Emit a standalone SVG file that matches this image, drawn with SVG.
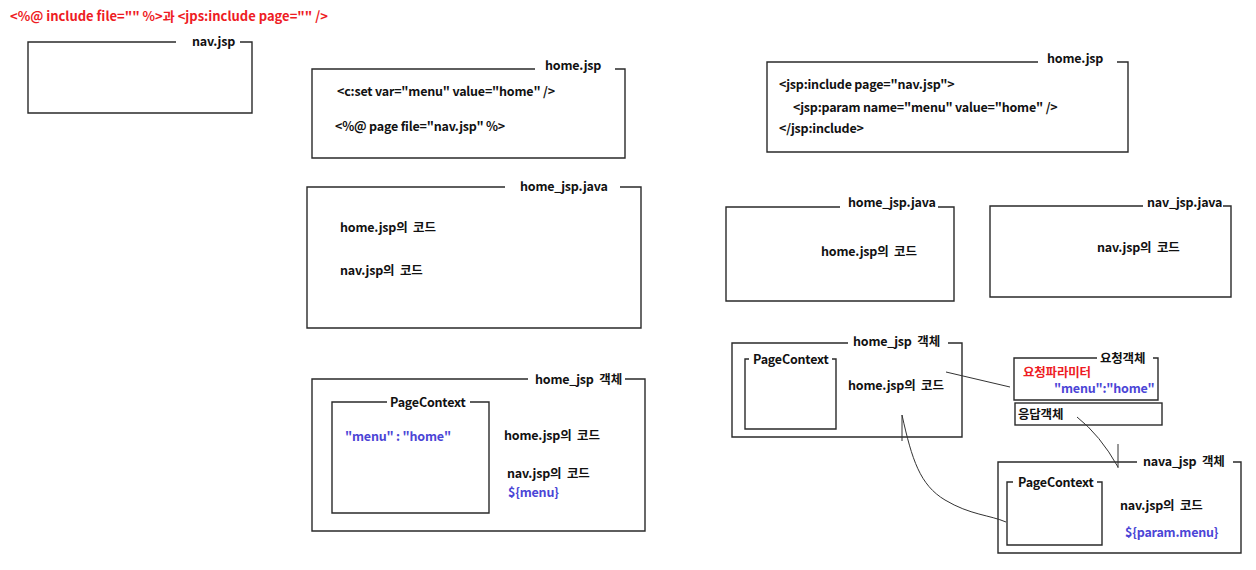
<svg xmlns="http://www.w3.org/2000/svg" width="1256" height="570" viewBox="0 0 1256 570">
<style>
text{font-family:"Noto Sans CJK KR","Noto Sans",sans-serif;font-weight:700;font-size:12.5px;letter-spacing:-0.2px;fill:#111}
.ttl{font-size:13px;letter-spacing:0}
.k{word-spacing:3px}
.red{fill:#ee1c24}
.blue{fill:#4b45d6}
.box{fill:none;stroke:#2a2a2a;stroke-width:1.4}
.con{fill:none;stroke:#333;stroke-width:1}
</style>
<rect width="1256" height="570" fill="#fff"/>
<text id="title" class="red ttl" x="10" y="21">&lt;%@ include file="" %&gt;과 &lt;jps:include page="" /&gt;</text>

<g id="nav-jsp">
<path class="box" d="M176 42H28V113H252V42H240"/>
<text x="192" y="46">nav.jsp</text>
</g>

<g id="home-jsp-left">
<path class="box" d="M535 69H312V158H625V69H615"/>
<text x="545" y="70">home.jsp</text>
<text x="337" y="96">&lt;c:set var="menu" value="home" /&gt;</text>
<text x="335" y="131">&lt;%@ page file="nav.jsp" %&gt;</text>
</g>

<g id="home-jsp-java-left">
<path class="box" d="M505 187H307V328H641V187H620"/>
<text x="520" y="191">home_jsp.java</text>
<text class="k" x="340" y="232">home.jsp의 코드</text>
<text class="k" x="340" y="275">nav.jsp의 코드</text>
</g>

<g id="home-jsp-object-left">
<path class="box" d="M528 379H312V531H645V379H625"/>
<text class="k" x="535" y="384">home_jsp 객체</text>
<g id="pagecontext-left">
<path class="box" d="M387 402H332V513H489V402H470"/>
<text x="390" y="407">PageContext</text>
<text class="blue" x="345" y="441">"menu" : "home"</text>
</g>
<text class="k" x="504" y="440">home.jsp의 코드</text>
<text class="k" x="507" y="478">nav.jsp의 코드</text>
<text class="blue" x="508" y="497">${menu}</text>
</g>

<g id="home-jsp-right">
<path class="box" d="M1038 62H767V152H1128V62H1117"/>
<text x="1047" y="63">home.jsp</text>
<text x="779" y="89">&lt;jsp:include page="nav.jsp"&gt;</text>
<text x="793" y="112">&lt;jsp:param name="menu" value="home" /&gt;</text>
<text x="779" y="133">&lt;/jsp:include&gt;</text>
</g>

<g id="home-jsp-java-right">
<path class="box" d="M840 207H726V301H954V207H938"/>
<text x="848" y="207">home_jsp.java</text>
<text class="k" x="821" y="256">home.jsp의 코드</text>
</g>

<g id="nav-jsp-java">
<path class="box" d="M1143 206H990V297H1231V206H1223"/>
<text x="1147" y="207">nav_jsp.java</text>
<text class="k" x="1097" y="252">nav.jsp의 코드</text>
</g>

<g id="home-jsp-object-right">
<path class="box" d="M848 343H732V437H962V343H948"/>
<text class="k" x="853" y="346">home_jsp 객체</text>
<g id="pagecontext-home">
<path class="box" d="M749 359H745V429H836V359H832"/>
<text x="753" y="364">PageContext</text>
</g>
<text class="k" x="848" y="390">home.jsp의 코드</text>
</g>

<g id="request-object">
<path class="box" d="M1097 358H1014V400H1158V358H1153"/>
<text x="1100" y="363">요청객체</text>
<text class="red" x="1023" y="377">요청파라미터</text>
<text class="blue" x="1054" y="393">"menu":"home"</text>
</g>

<g id="response-object">
<rect class="box" x="1015" y="403" width="147" height="22"/>
<text x="1018" y="419">응답객체</text>
</g>

<g id="nava-jsp-object">
<path class="box" d="M1137 462H998V553H1241V462H1233"/>
<text class="k" x="1143" y="466">nava_jsp 객체</text>
<g id="pagecontext-nav">
<path class="box" d="M1013 482H1007V545H1102V482H1097"/>
<text x="1018" y="487">PageContext</text>
</g>
<text class="k" x="1120" y="510">nav.jsp의 코드</text>
<text class="blue" x="1125" y="537">${param.menu}</text>
</g>

<g id="connectors">
<path class="con" d="M946 372L1010 387"/>
<path class="con" d="M1006 522C990 515 970 515 945 500C920 485 912 460 902 415V441"/>
<path class="con" d="M1077 417Q1100 435 1118 467M1118 444V468"/>
</g>
</svg>
